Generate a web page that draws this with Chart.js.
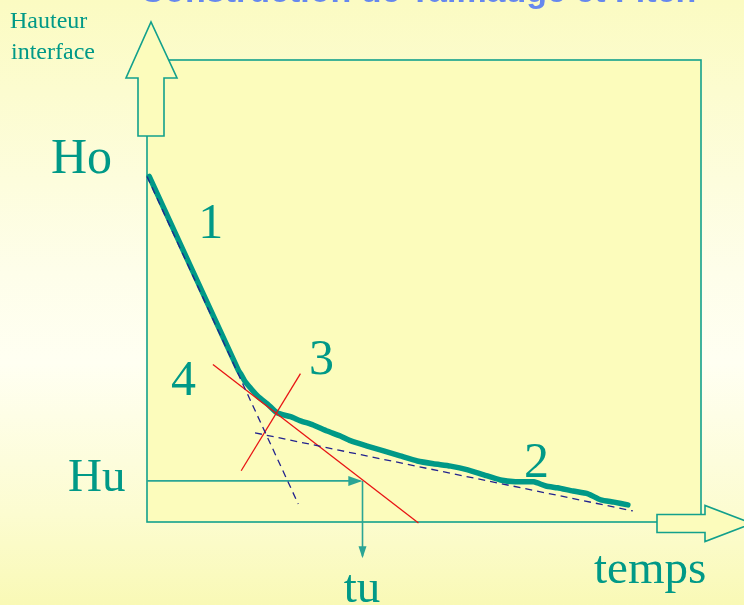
<!DOCTYPE html>
<html>
<head>
<meta charset="utf-8">
<script src="https://cdn.jsdelivr.net/npm/chart.js@4/dist/chart.umd.min.js"></script>
<style>
  html, body { margin: 0; padding: 0; }
  body {
    width: 744px; height: 605px; overflow: hidden;
    background: linear-gradient(to bottom, #fbfbc2 0%, #fefeea 45%, #fffff2 60%, #fcfcd0 85%, #f9f9b6 100%);
  }
  canvas { display: block; }
</style>
</head>
<body>
<canvas id="settling" width="744" height="605"></canvas>
<script>
// settling curve (time, interface height) in % of the axis ranges
const curveT = [0.4, 16.5, 17.0, 17.7, 18.6, 20.1, 21.7, 23.5, 25.9, 27.7, 30.0, 32.5, 34.9, 36.7, 39.6, 42.7,
                45.7, 48.8, 51.7, 54.8, 57.9, 60.8, 63.8, 66.5, 69.8, 72.0, 74.1, 76.9, 79.6, 81.9, 84.3, 86.8];
const curveH = [74.8, 32.8, 31.9, 30.4, 29.1, 27.1, 25.6, 23.6, 22.8, 21.9, 21.0, 19.7, 18.6, 17.6, 16.5, 15.4,
                14.3, 13.2, 12.6, 12.1, 11.3, 10.2, 9.1, 8.7, 8.7, 7.8, 7.4, 6.7, 6.1, 4.8, 4.3, 3.7];

// construction lines: [t0, h0, t1, h1]
const tangent1 = [0, 74.8, 27.3, 3.9];
const tangent2 = [19.5, 19.3, 87.7, 2.4];
const redTangent = [11.9, 34.1, 49.0, -0.2];
const bisector = [17.0, 11.1, 27.7, 32.1];
const huLine = [0, 8.9, 38.5, 8.9];
const tuLine = [38.9, 8.9, 38.9, -7.4];

// text labels: [text, t, h]
const labels = [
    ['1', 11.5, 61.5],
    ['3', 31.5, 32.0],
    ['4', 6.6, 27.5],
    ['2', 70.3, 9.8],
];

const teal = '#009987';
const boxFill = '#fcfcbc';

function seg(a) {
    return [{ x: a[0], y: a[1] }, { x: a[2], y: a[3] }];
}

function lineSet(a, color, width, dash) {
    return {
        data: seg(a), borderColor: color, borderWidth: width, borderDash: dash || [],
        pointRadius: 0, tension: 0, clip: false
    };
}

const sketchPlugin = {
    id: 'sketch',
    beforeDatasetsDraw(chart) {
        const ctx = chart.ctx;
        const a = chart.chartArea;
        ctx.save();
        // title (mostly above the frame)
        ctx.fillStyle = '#6688ee';
        ctx.font = 'bold 34px "Liberation Sans", Arial, sans-serif';
        ctx.textAlign = 'center';
        ctx.fillText('Construction de Talmadge et Fitch', 418, 1.5);

        // plot box
        ctx.fillStyle = boxFill;
        ctx.fillRect(a.left, a.top, a.right - a.left, a.bottom - a.top);
        ctx.strokeStyle = '#12a08c';
        ctx.lineWidth = 1.6;
        ctx.strokeRect(a.left, a.top, a.right - a.left, a.bottom - a.top);

        // hollow arrow on the height axis
        const cx = a.left + 4;
        ctx.beginPath();
        ctx.moveTo(cx - 13, 136);
        ctx.lineTo(cx - 13, 78);
        ctx.lineTo(cx - 25, 78);
        ctx.lineTo(cx, 22);
        ctx.lineTo(cx + 26, 78);
        ctx.lineTo(cx + 13, 78);
        ctx.lineTo(cx + 13, 136);
        ctx.closePath();
        ctx.fillStyle = boxFill;
        ctx.fill();
        ctx.stroke();

        // hollow arrow on the time axis
        const cy = a.bottom + 1.5;
        ctx.beginPath();
        ctx.moveTo(657, cy - 9);
        ctx.lineTo(705, cy - 9);
        ctx.lineTo(705, cy - 18);
        ctx.lineTo(752, cy);
        ctx.lineTo(705, cy + 18);
        ctx.lineTo(705, cy + 9);
        ctx.lineTo(657, cy + 9);
        ctx.closePath();
        ctx.fill();
        ctx.stroke();
        ctx.restore();
    },
    afterDatasetsDraw(chart) {
        const ctx = chart.ctx;
        const xs = chart.scales.x, ys = chart.scales.y;
        ctx.save();
        ctx.fillStyle = '#2aa595';
        // arrow head of Hu
        let px = xs.getPixelForValue(huLine[2]), py = ys.getPixelForValue(huLine[3]);
        ctx.beginPath();
        ctx.moveTo(px + 2, py);
        ctx.lineTo(px - 12, py - 5);
        ctx.lineTo(px - 12, py + 5);
        ctx.closePath();
        ctx.fill();
        // arrow head of tu
        px = xs.getPixelForValue(tuLine[2]);
        py = ys.getPixelForValue(tuLine[3]);
        ctx.beginPath();
        ctx.moveTo(px, py + 2);
        ctx.lineTo(px - 4, py - 10);
        ctx.lineTo(px + 4, py - 10);
        ctx.closePath();
        ctx.fill();

        // texts
        ctx.fillStyle = teal;
        ctx.textBaseline = 'alphabetic';
        ctx.font = '50px "Liberation Serif", "Times New Roman", serif';
        ctx.textAlign = 'center';
        labels.forEach(function (l) {
            ctx.fillText(l[0], xs.getPixelForValue(l[1]), ys.getPixelForValue(l[2]));
        });
        ctx.textAlign = 'left';
        ctx.fillText('Ho', 51, 173);
        ctx.font = '47px "Liberation Serif", "Times New Roman", serif';
        ctx.fillText('Hu', 68, 491);
        ctx.fillText('temps', 594, 583);
        ctx.textAlign = 'center';
        ctx.fillText('tu', 362, 602);
        ctx.textAlign = 'left';
        ctx.font = '24px "Liberation Serif", "Times New Roman", serif';
        ctx.fillText('Hauteur', 10, 28);
        ctx.fillText('interface', 11, 59);
        ctx.restore();
    }
};

new Chart(document.getElementById('settling'), {
    type: 'line',
    data: {
        datasets: [
            lineSet(tangent1, '#22228e', 1.3, [7, 5]),
            lineSet(tangent2, '#22228e', 1.3, [7, 5]),
            lineSet(redTangent, '#e81414', 1.3),
            lineSet(bisector, '#e81414', 1.3),
            lineSet(huLine, '#2aa595', 1.6),
            lineSet(tuLine, '#2aa595', 1.6),
            {
                data: curveT.map(function (t, i) { return { x: t, y: curveH[i] }; }),
                borderColor: teal, borderWidth: 5.5, borderCapStyle: 'round', borderJoinStyle: 'round',
                pointRadius: 0, tension: 0.2, clip: false
            }
        ]
    },
    options: {
        responsive: false,
        animation: false,
        layout: { padding: { left: 147, right: 43, top: 60, bottom: 83 } },
        plugins: { legend: { display: false }, tooltip: { enabled: false } },
        scales: {
            x: { type: 'linear', min: 0, max: 100, display: false },
            y: { type: 'linear', min: 0, max: 100, display: false }
        }
    },
    plugins: [sketchPlugin]
});
</script>
</body>
</html>
